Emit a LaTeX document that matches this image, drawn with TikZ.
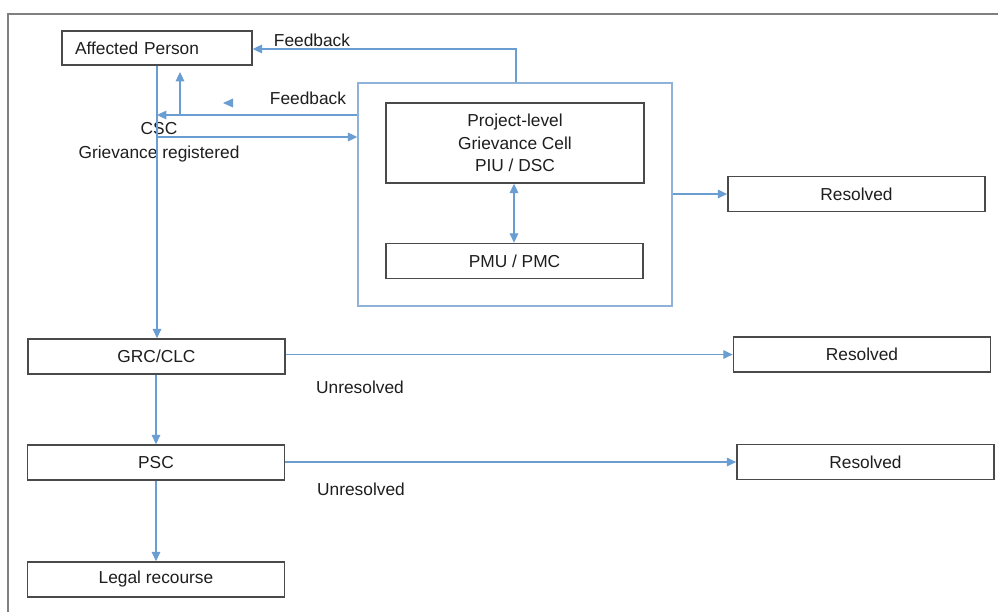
\documentclass[tikz,border=0pt]{standalone}
\usepackage{fontspec}
\setmainfont{Liberation Sans}
\usetikzlibrary{arrows.meta}
\definecolor{conncol}{HTML}{6A9ED2}
\definecolor{bigb}{HTML}{8FB3D8}
\definecolor{boxb}{HTML}{4A4A4A}
\definecolor{txt}{HTML}{1E1E1E}
\tikzset{
  every node/.style={font=\fontsize{13}{17}\selectfont, text=txt},
  box/.style={draw=boxb, line width=1.1pt, fill=white, inner sep=0pt, align=center,
    minimum width=193pt, minimum height=26.4pt},
  bigbox/.style={draw=bigb, line width=1.1pt, inner sep=0pt,
    minimum width=235.5pt, minimum height=167.25pt},
  tip/.tip={Triangle[length=7pt,width=6.5pt]},
  connector/.style={draw=conncol, line width=0.8pt, -tip},
  lbl/.style={inner sep=0pt, align=center},
}
\begin{document}
\begin{tikzpicture}[x=0.75pt,y=-0.75pt]
\useasboundingbox (0,0) rectangle (998,612);
\fill[white] (0,0) rectangle (998,612);
% frame
\draw[gray, line width=1.2pt] (8,612) -- (8,14) -- (998,14);

% nodes
\node[bigbox] (big) at (515,194.5) {};
\node[box, minimum width=142.5pt, minimum height=25.5pt, text width=123pt, align=left, inner xsep=9.75pt] (ap) at (157,48) {Affected Person};
\node[box, minimum height=60pt, minimum width=193.5pt] (pl) at (515,143) {Project-level\\Grievance Cell\\PIU / DSC};
\node[box] (pmu) at (514.5,261) {PMU / PMC};
\node[box] (r1) at (856.5,194) {Resolved};
\node[box] (grc) at (156.5,356.5) {GRC/CLC};
\node[box] (psc) at (156,462.5) {PSC};
\node[box] (legal) at (156,579.5) {Legal recourse};
\node[box] (r2) at (862,354.5) {Resolved};
\node[box] (r3) at (865.5,462) {Resolved};

% labels
\node[lbl] (fb1) at (312,40) {Feedback};
\node[lbl] (fb2) at (308,98) {Feedback};
\node[lbl] (csc) at (159,142.5) {CSC\\[1pt]Grievance registered};
\node[lbl] (un1) at (360,387) {Unresolved};
\node[lbl] (un2) at (361,489) {Unresolved};

% helper coordinates
\coordinate (t1) at (516,49);
\coordinate (fbL) at (157,115);
\coordinate (upB) at (180,115);
\coordinate (upT) at (180,72);
\coordinate (regL) at (157,137);
\coordinate (dbl) at (514,0);

% connectors
\draw[connector] (big.north -| t1) -- (t1) -- (ap.east |- t1);
\draw[connector] (ap.south -| fbL) -- (grc.north -| fbL);
\draw[connector] (big.west |- fbL) -- (fbL);
\draw[connector] (upB) -- (upT);
\fill[fill=conncol] (223,103) -- (233,98.5) -- (233,107.5) -- cycle;
\draw[connector] (regL) -- (big.west |- regL);
\draw[connector, tip-tip] (pl.south -| dbl) -- (pmu.north -| dbl);
\draw[connector] (big.east |- r1) -- (r1.west);
\draw[connector] (grc.east |- r2) -- (r2.west);
\draw[connector] (psc.east |- r3) -- (r3.west);
\draw[connector] (grc.south -| psc) -- (psc.north);
\draw[connector] (psc.south) -- (legal.north);
\end{tikzpicture}
\end{document}
